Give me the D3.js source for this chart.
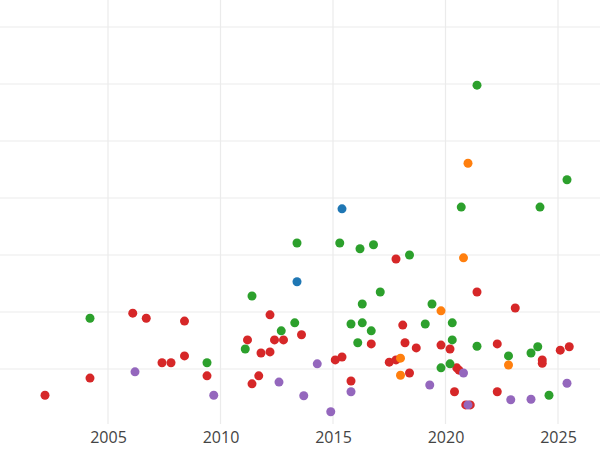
<!doctype html>
<html>
<head>
<meta charset="utf-8">
<style>
	body { margin: 0; background: #fff; }
	.grid line { stroke: #ebebeb; stroke-width: 1.2px; }
	.xaxis text { font: 16px "Open Sans", sans-serif; fill: #444; }
</style>
<script src="https://d3js.org/d3.v7.min.js"></script>
</head>
<body>
<div id="canvas"></div>
<script>
	var red = [[2002.2,5.4],[2004.2,8.4],[2006.1,19.8],[2006.7,18.9],[2007.4,11.1],[2007.8,11.1],[2008.4,12.3],[2008.4,18.4],[2009.4,8.8],[2011.2,15.1],[2011.4,7.4],[2011.7,8.8],[2011.8,12.8],[2012.2,19.5],[2012.2,13.0],[2012.4,15.1],[2012.8,15.1],[2013.6,16.0],[2015.1,11.6],[2015.4,12.1],[2015.8,7.9],[2016.7,14.4],[2017.5,11.2],[2017.8,29.3],[2017.8,11.6],[2018.1,17.7],[2018.2,14.6],[2018.4,9.3],[2018.7,13.7],[2019.8,14.2],[2020.2,13.5],[2020.4,6.0],[2020.5,10.2],[2020.6,9.8],[2020.9,3.7],[2021.1,3.7],[2021.4,23.5],[2022.3,14.4],[2022.3,6.0],[2023.1,20.7],[2024.3,11.6],[2024.3,11.0],[2025.1,13.3],[2025.5,13.9]];
	var green = [[2004.2,18.9],[2009.4,11.1],[2011.1,13.5],[2011.4,22.8],[2012.7,16.7],[2013.3,18.1],[2013.4,32.1],[2015.3,32.1],[2015.8,17.9],[2016.1,14.6],[2016.2,31.1],[2016.3,21.4],[2016.3,18.1],[2016.7,16.7],[2016.8,31.8],[2017.1,23.5],[2018.4,30.0],[2019.1,17.9],[2019.4,21.4],[2019.8,10.2],[2020.2,10.9],[2020.3,15.1],[2020.3,18.1],[2020.7,38.4],[2021.4,59.8],[2021.4,14.0],[2022.8,12.3],[2023.8,12.8],[2024.1,13.9],[2024.2,38.4],[2024.6,5.4],[2025.4,43.2]];
	var blue = [[2015.4,38.1],[2013.4,25.3]];
	var orange = [[2018.0,11.9],[2018.0,8.9],[2019.8,20.2],[2020.8,29.5],[2021.0,46.1],[2022.8,10.7]];
	var purple = [[2006.2,9.5],[2009.7,5.4],[2012.6,7.7],[2013.7,5.3],[2014.3,10.9],[2014.9,2.5],[2015.8,6.0],[2019.3,7.2],[2020.8,9.3],[2021.0,3.7],[2022.9,4.6],[2023.8,4.7],[2025.4,7.5]];
	var xTicks = [2005, 2010, 2015, 2020, 2025];
	var yGrid = [10, 20, 30, 40, 50, 60, 70];

	var width = 600, height = 450;
	var svg = d3.select("#canvas").append("svg")
		.attr("width", width).attr("height", height);

	var x = d3.scaleLinear().domain([2005, 2025]).range([108, 558]);
	var y = d3.scaleLinear().domain([0, 70]).range([426, 27]);

	svg.append("g").attr("class", "grid")
		.selectAll("line").data(yGrid).enter().append("line")
		.attr("x1", 0).attr("x2", width)
		.attr("y1", d => y(d)).attr("y2", d => y(d));
	svg.append("g").attr("class", "grid")
		.selectAll("line").data(xTicks).enter().append("line")
		.attr("x1", d => x(d)).attr("x2", d => x(d))
		.attr("y1", 0).attr("y2", 424);

	var xAxis = svg.append("g").attr("class", "xaxis")
		.attr("transform", "translate(0, 424)")
		.call(d3.axisBottom(x).tickValues(xTicks).tickFormat(d3.format("d")).tickSize(0).tickPadding(8));
	xAxis.select(".domain").remove();

	var series = [[red, "#d62728"], [green, "#2ca02c"], [blue, "#1f77b4"], [orange, "#ff7f0e"], [purple, "#9467bd"]];
	series.forEach(function(s) {
		svg.append("g").selectAll("circle").data(s[0]).enter().append("circle")
			.attr("cx", d => x(d[0])).attr("cy", d => y(d[1]))
			.attr("r", 4.5).attr("fill", s[1]);
	});
</script>
</body>
</html>
